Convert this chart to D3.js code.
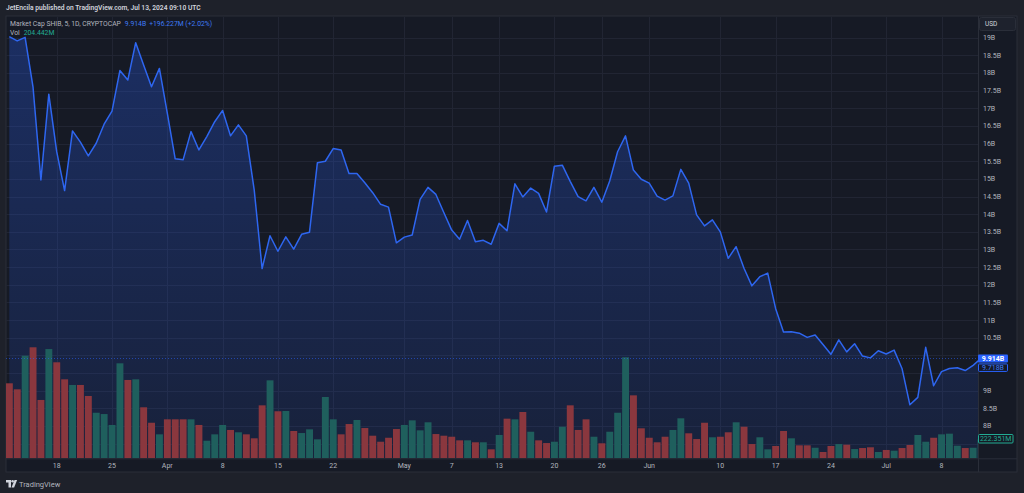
<!DOCTYPE html>
<html>
<head>
<meta charset="utf-8">
<script src="https://cdn.jsdelivr.net/npm/d3@7/dist/d3.min.js"></script>
<style>
  html, body { margin: 0; padding: 0; background: #1e212a; }
  svg { display: block; font-family: Roboto, "Liberation Sans", sans-serif; }
</style>
</head>
<body>
<div id="wrapper"></div>
<script>
// daily series, first point = START_DATE
const START_DATE = "2024-03-12";

/** Market cap SHIB, billions USD, one value per day */
const marketCap = [
  19.03, 18.91, 19.01, 17.61, 14.97, 17.40, 15.77, 14.67, 16.36, 16.04,
  15.65, 16.01, 16.55, 16.92, 18.07, 17.80, 18.86, 18.23, 17.61, 18.13,
  16.86, 15.57, 15.54, 16.34, 15.82, 16.20, 16.62, 16.94, 16.22, 16.53,
  16.22, 14.69, 12.46, 13.39, 12.95, 13.36, 13.01, 13.43, 13.49, 15.46,
  15.50, 15.86, 15.82, 15.15, 15.15, 14.89, 14.61, 14.28, 14.20, 13.19,
  13.35, 13.41, 14.42, 14.76, 14.56, 14.05, 13.55, 13.29, 13.82, 13.22,
  13.26, 13.15, 13.74, 13.53, 14.86, 14.49, 14.74, 14.59, 14.06, 15.36,
  15.39, 14.93, 14.50, 14.38, 14.76, 14.34, 14.94, 15.77, 16.22, 15.25,
  14.99, 14.88, 14.51, 14.40, 14.52, 15.27, 14.88, 13.98, 13.67, 13.84,
  13.50, 12.75, 13.08, 12.47, 11.97, 12.23, 12.33, 11.33, 10.66, 10.67,
  10.63, 10.51, 10.58, 10.31, 10.03, 10.44, 10.10, 10.33, 9.98, 9.93,
  10.13, 10.04, 10.15, 9.63, 8.60, 8.81, 10.23, 9.14, 9.54, 9.63,
  9.65, 9.57, 9.718, 9.914
];

/** Volume, millions USD */
const volume = [
  810, 745, 1108, 1199, 630, 1180, 1037, 853, 792, 792,
  673, 492, 478, 360, 1026, 846, 853, 551, 384, 259,
  421, 421, 421, 421, 360, 190, 259, 360, 306, 281,
  259, 216, 572, 842, 508, 511, 295, 273, 313, 205,
  662, 421, 259, 370, 414, 327, 244, 179, 222, 316,
  360, 410, 302, 389, 262, 244, 233, 194, 194, 173,
  173, 97, 252, 428, 421, 500, 287, 194, 165, 179,
  341, 572, 306, 421, 233, 162, 287, 492, 1091, 680,
  324, 222, 173, 233, 306, 432, 270, 208, 384, 227,
  233, 281, 389, 341, 154, 227, 97, 133, 295, 216,
  140, 140, 114, 68, 133, 154, 147, 100, 111, 119,
  68, 90, 82, 111, 144, 252, 179, 222, 259, 266,
  136, 111, 114, 204
];

/** 1 = up day (teal bar), 0 = down day (red bar) */
const volumeUp = [
  0, 0, 1, 0, 0, 1, 0, 0, 1, 0,
  0, 1, 1, 1, 1, 0, 1, 0, 0, 1,
  0, 0, 0, 1, 0, 1, 1, 1, 0, 1,
  0, 0, 0, 1, 0, 1, 0, 1, 1, 1,
  1, 1, 0, 0, 1, 0, 0, 0, 0, 0,
  1, 1, 1, 1, 0, 0, 0, 0, 1, 0,
  1, 0, 1, 0, 1, 0, 1, 0, 0, 1,
  1, 0, 0, 0, 1, 0, 1, 1, 1, 0,
  0, 0, 0, 0, 1, 1, 0, 0, 0, 1,
  0, 0, 1, 0, 0, 1, 1, 0, 0, 1,
  0, 0, 1, 0, 0, 1, 0, 1, 0, 0,
  1, 0, 1, 0, 0, 1, 1, 0, 1, 1,
  1, 0, 1, 1
];

const tickDates = [
  "2024-03-18", "2024-03-25", "2024-04-01", "2024-04-08", "2024-04-15", "2024-04-22",
  "2024-05-01", "2024-05-07", "2024-05-13", "2024-05-20", "2024-05-26", "2024-06-01",
  "2024-06-10", "2024-06-17", "2024-06-24", "2024-07-01", "2024-07-08"
];
const tickLabels = [
  "18", "25", "Apr", "8", "15", "22", "May", "7", "13", "20", "26", "Jun",
  "10", "17", "24", "Jul", "8"
];
const priceTicks = d3.range(7.5, 19.01, 0.5);

const LAST_VALUE = "9.914B";
const PREV_VALUE = "9.718B";
const VOL_LABEL = "222.351M";

const parseDate = d3.timeParse("%Y-%m-%d");
const start = parseDate(START_DATE);
const data = marketCap.map((v, i) => ({
  date: d3.timeDay.offset(start, i),
  value: v,
  volume: volume[i],
  up: volumeUp[i] === 1
}));

const xAccessor = d => d.date;
const yAccessor = d => d.value;

const dimensions = {
  width: 1024,
  height: 493,
  panel: { left: 6, right: 1017, top: 16, bottom: 472 },
  plot: { left: 6, right: 978, top: 16.5, bottom: 458.3 }
};

const wrapper = d3.select("#wrapper")
  .append("svg")
  .attr("width", dimensions.width)
  .attr("height", dimensions.height);

const defs = wrapper.append("defs");
defs.append("clipPath").attr("id", "plot-clip")
  .append("rect")
  .attr("x", dimensions.plot.left)
  .attr("y", dimensions.plot.top)
  .attr("width", dimensions.plot.right - dimensions.plot.left)
  .attr("height", dimensions.plot.bottom - dimensions.plot.top);

// panel background
wrapper.append("rect")
  .attr("x", dimensions.panel.left)
  .attr("y", dimensions.panel.top)
  .attr("width", dimensions.panel.right - dimensions.panel.left)
  .attr("height", dimensions.panel.bottom - dimensions.panel.top)
  .attr("fill", "#161a25")
  .attr("stroke", "#2a2e39");

const xScale = d3.scaleTime()
  .domain([start, d3.timeDay.offset(start, marketCap.length - 1)])
  .range([9.3, 9.3 + 7.9 * (marketCap.length - 1)]);

// 19B sits at y 37.7, 35.3px per billion
const yScale = d3.scaleLinear()
  .domain([19 - (dimensions.plot.bottom - 37.7) / 35.3, 19 + (37.7 - dimensions.plot.top) / 35.3])
  .range([dimensions.plot.bottom, dimensions.plot.top]);

const volScale = d3.scaleLinear()
  .domain([0, 1000])
  .range([dimensions.plot.bottom, dimensions.plot.bottom - 1000 / 10.8]);

// grid
const grid = wrapper.append("g").attr("clip-path", "url(#plot-clip)");
grid.selectAll(".hgrid")
  .data(priceTicks)
  .join("line")
  .attr("x1", dimensions.plot.left)
  .attr("x2", dimensions.plot.right)
  .attr("y1", d => Math.round(yScale(d)) + 0.5)
  .attr("y2", d => Math.round(yScale(d)) + 0.5)
  .attr("stroke", "#212533");
grid.selectAll(".vgrid")
  .data(tickDates)
  .join("line")
  .attr("x1", d => Math.round(xScale(parseDate(d))) + 0.5)
  .attr("x2", d => Math.round(xScale(parseDate(d))) + 0.5)
  .attr("y1", dimensions.plot.top)
  .attr("y2", dimensions.plot.bottom)
  .attr("stroke", "#212533");

const bounds = wrapper.append("g").attr("clip-path", "url(#plot-clip)");

// area fill
const grad = defs.append("linearGradient")
  .attr("id", "area-grad")
  .attr("gradientUnits", "userSpaceOnUse")
  .attr("x1", 0).attr("x2", 0)
  .attr("y1", yScale(d3.max(marketCap)))
  .attr("y2", dimensions.plot.bottom);
grad.append("stop").attr("offset", 0).attr("stop-color", "#2962ff").attr("stop-opacity", 0.28);
grad.append("stop").attr("offset", 1).attr("stop-color", "#2962ff").attr("stop-opacity", 0.1);

const areaGenerator = d3.area()
  .x(d => xScale(xAccessor(d)))
  .y0(dimensions.plot.bottom)
  .y1(d => yScale(yAccessor(d)));

bounds.append("path")
  .datum(data)
  .attr("d", areaGenerator)
  .attr("fill", "url(#area-grad)");

// volume bars
bounds.selectAll(".vol")
  .data(data)
  .join("rect")
  .attr("x", d => xScale(xAccessor(d)) - 3.4)
  .attr("width", 6.9)
  .attr("y", d => volScale(d.volume))
  .attr("height", d => dimensions.plot.bottom - volScale(d.volume))
  .attr("fill", d => d.up ? "#1f5f5d" : "#8a373e");

// last price dotted line
const lastY = yScale(marketCap[marketCap.length - 1]);
bounds.append("line")
  .attr("x1", dimensions.plot.left)
  .attr("x2", dimensions.plot.right)
  .attr("y1", Math.round(lastY) + 0.5)
  .attr("y2", Math.round(lastY) + 0.5)
  .attr("stroke", "#2962ff")
  .attr("stroke-opacity", 0.55)
  .attr("stroke-dasharray", "1,2");

const lineGenerator = d3.line()
  .x(d => xScale(xAccessor(d)))
  .y(d => yScale(yAccessor(d)));

bounds.append("path")
  .datum(data)
  .attr("d", lineGenerator)
  .attr("fill", "none")
  .attr("stroke", "#2e66f0")
  .attr("stroke-width", 1.5)
  .attr("stroke-linejoin", "round");

// price axis
wrapper.append("line")
  .attr("x1", dimensions.plot.right + 0.5).attr("x2", dimensions.plot.right + 0.5)
  .attr("y1", dimensions.panel.top).attr("y2", dimensions.panel.bottom)
  .attr("stroke", "#2a2e39");

// boxes on the price scale cover some tick labels, hide those
const volBoxY = 438.8;
const coveredTick = d => Math.abs(yScale(d) - (lastY + 5)) < 11 || Math.abs(yScale(d) - volBoxY) < 7;

wrapper.append("g")
  .selectAll("text")
  .data(priceTicks.filter(d => !coveredTick(d)))
  .join("text")
  .attr("x", 983)
  .attr("y", d => yScale(d))
  .attr("dy", "0.35em")
  .attr("fill", "#b2b5be")
  .style("font-size", "7px")
  .text(d => `${d}B`);

// time axis
wrapper.append("line")
  .attr("x1", dimensions.panel.left).attr("x2", dimensions.panel.right)
  .attr("y1", dimensions.plot.bottom + 0.5).attr("y2", dimensions.plot.bottom + 0.5)
  .attr("stroke", "#2a2e39");

wrapper.append("g")
  .selectAll("text")
  .data(tickDates)
  .join("text")
  .attr("x", d => xScale(parseDate(d)))
  .attr("y", 465.7)
  .attr("dy", "0.35em")
  .attr("text-anchor", "middle")
  .attr("fill", "#b2b5be")
  .style("font-size", "7px")
  .text((d, i) => tickLabels[i]);

// USD box
wrapper.append("rect")
  .attr("x", 979.5).attr("y", 17.5)
  .attr("width", 36).attr("height", 13)
  .attr("rx", 2)
  .attr("fill", "#1e222d")
  .attr("stroke", "#2a2e39");
wrapper.append("text")
  .attr("x", 985).attr("y", 24)
  .attr("dy", "0.35em")
  .attr("fill", "#d1d4dc")
  .style("font-size", "6.5px")
  .text("USD");

// last value labels
wrapper.append("rect")
  .attr("x", 978).attr("y", lastY - 4)
  .attr("width", 30).attr("height", 8)
  .attr("rx", 1)
  .attr("fill", "#2962ff");
wrapper.append("text")
  .attr("x", 993).attr("y", lastY)
  .attr("dy", "0.35em")
  .attr("text-anchor", "middle")
  .attr("fill", "#ffffff")
  .style("font-size", "7px")
  .style("font-weight", "bold")
  .text(LAST_VALUE);
wrapper.append("rect")
  .attr("x", 978.5).attr("y", lastY + 5.5)
  .attr("width", 29).attr("height", 7.5)
  .attr("rx", 1)
  .attr("fill", "#161a25")
  .attr("stroke", "#2962ff");
wrapper.append("text")
  .attr("x", 993).attr("y", lastY + 9.3)
  .attr("dy", "0.35em")
  .attr("text-anchor", "middle")
  .attr("fill", "#3f7af5")
  .style("font-size", "7px")
  .text(PREV_VALUE);

// volume label
wrapper.append("rect")
  .attr("x", 978.5).attr("y", volBoxY - 4.3)
  .attr("width", 34.5).attr("height", 8.5)
  .attr("rx", 1)
  .attr("fill", "#161a25")
  .attr("stroke", "#22ab94");
wrapper.append("text")
  .attr("x", 995.7).attr("y", volBoxY)
  .attr("dy", "0.35em")
  .attr("text-anchor", "middle")
  .attr("fill", "#22ab94")
  .style("font-size", "7px")
  .text(VOL_LABEL);

// header
wrapper.append("text")
  .attr("x", 6).attr("y", 8)
  .attr("dy", "0.35em")
  .attr("fill", "#d1d4dc")
  .style("font-size", "6.7px")
  .style("font-weight", 600)
  .text("JetEncila published on TradingView.com, Jul 13, 2024 09:10 UTC");

const legend = wrapper.append("text")
  .attr("x", 10).attr("y", 24)
  .attr("dy", "0.35em")
  .style("font-size", "6.8px");
legend.append("tspan").attr("fill", "#b2b5be").text("Market Cap SHIB, 5, 1D, CRYPTOCAP");
legend.append("tspan").attr("fill", "#3f7af5").attr("dx", 4).text(LAST_VALUE);
legend.append("tspan").attr("fill", "#3f7af5").attr("dx", 3).text("+196.227M (+2.02%)");

const volLegend = wrapper.append("text")
  .attr("x", 10).attr("y", 33)
  .attr("dy", "0.35em")
  .style("font-size", "6.8px");
volLegend.append("tspan").attr("fill", "#b2b5be").text("Vol");
volLegend.append("tspan").attr("fill", "#22ab94").attr("dx", 4).text("204.442M");

// footer logo
const logo = wrapper.append("g").attr("fill", "#d1d4dc");
logo.append("path").attr("d", "M6,480 h5 v7.5 h-2.5 v-5 h-2.5 z");
logo.append("circle").attr("cx", 12.6).attr("cy", 481.3).attr("r", 1.3);
logo.append("path").attr("d", "M14.5,480 h2.6 l-3,7.5 h-2.6 z");
wrapper.append("text")
  .attr("x", 19).attr("y", 484)
  .attr("dy", "0.35em")
  .attr("fill", "#b2b5be")
  .style("font-size", "7.5px")
  .text("TradingView");
</script>
</body>
</html>
